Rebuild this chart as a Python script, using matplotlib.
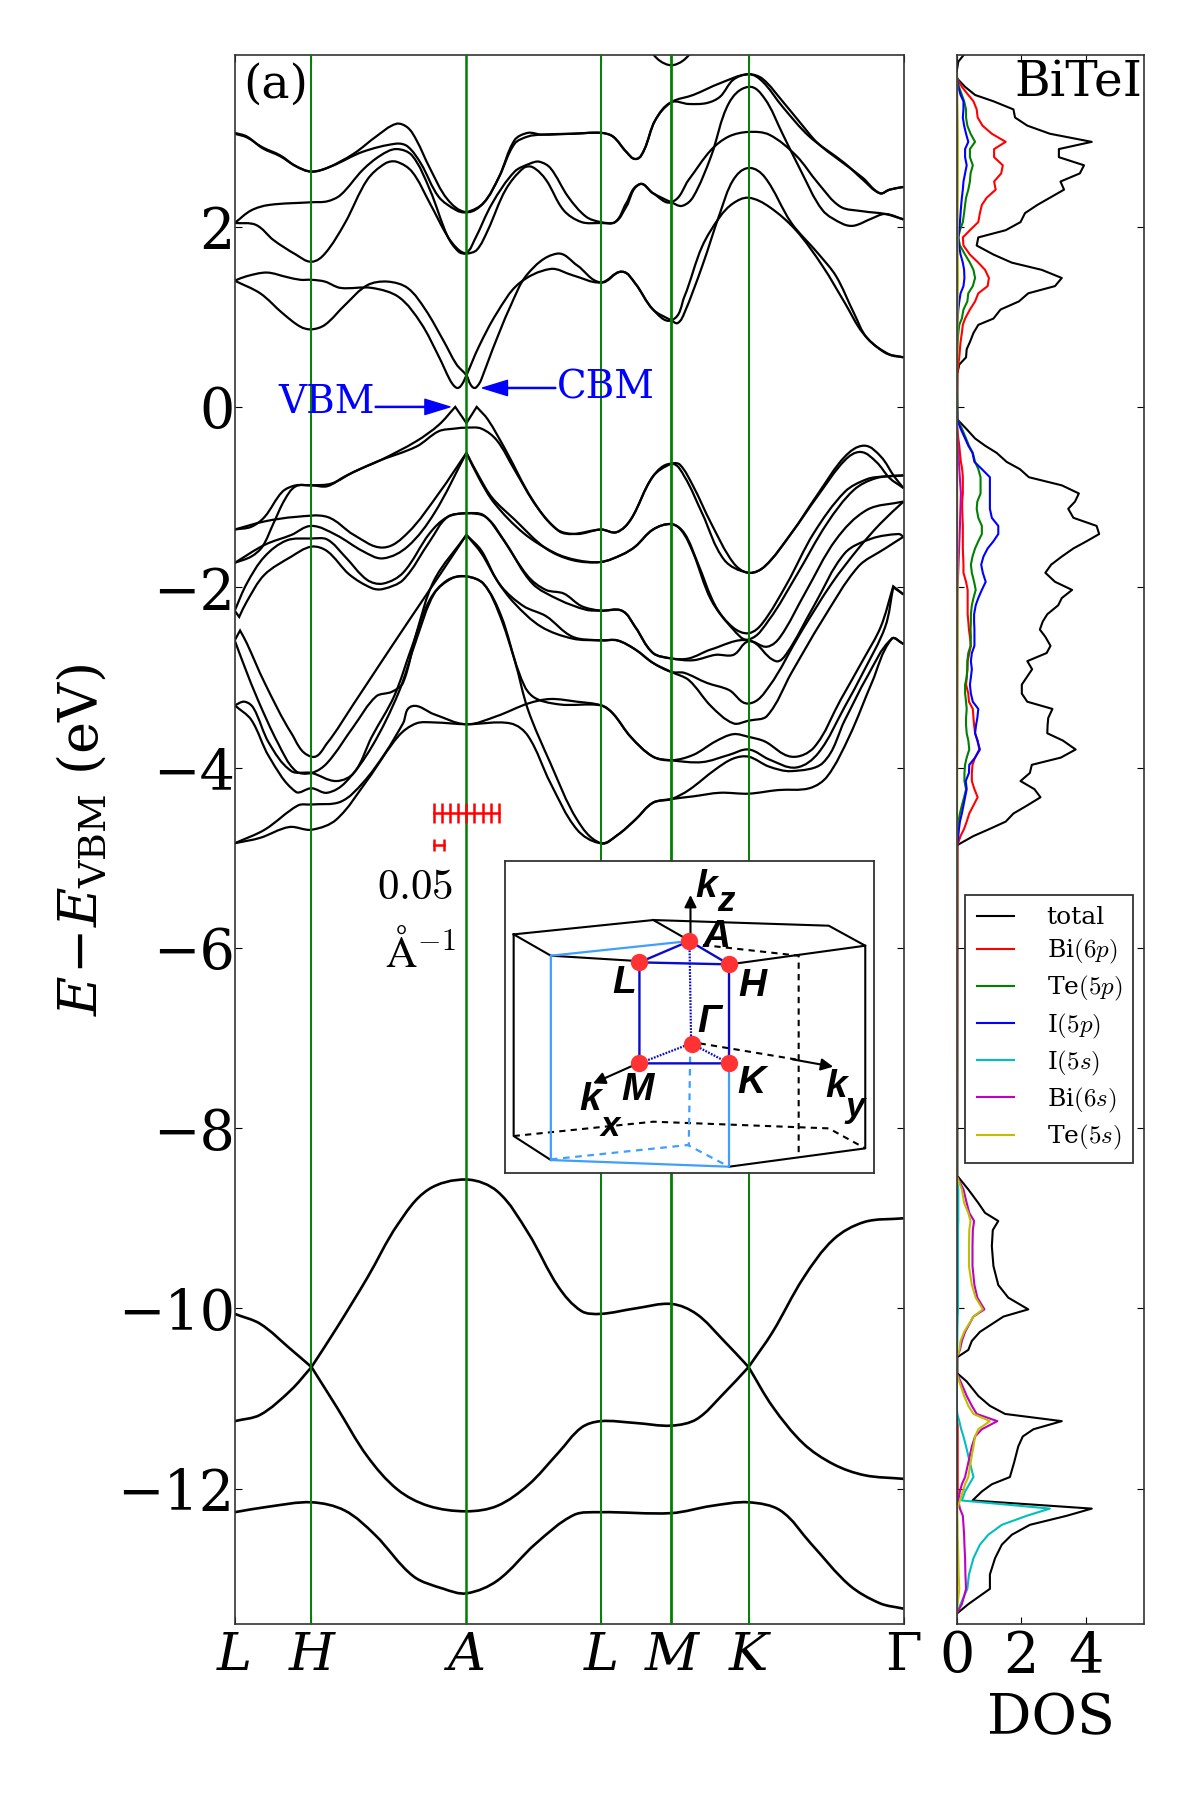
import numpy as np
import matplotlib
matplotlib.use("Agg")
import matplotlib.pyplot as plt
from matplotlib.path import Path
from matplotlib.patches import PathPatch

plt.rcParams["font.family"] = ["DejaVu Serif"]
plt.rcParams["mathtext.fontset"] = "cm"

# path position along the k line (arbitrary units), symmetry points
k_ticks = [33, 205, 552, 853, 1011, 1184, 1531]
k_labels = ["L", "H", "A", "L", "M", "K", "Γ"]
e_ticks = [-12, -10, -8, -6, -4, -2, 0, 2]

# conduction bands (k, eV)
band_c0 = [(960, 3.97), (985, 3.84), (1011, 3.79), (1037, 3.84), (1062, 3.97)]
band_c1 = [(33, 3.04), (60, 3.00), (95, 2.87), (135, 2.78), (170, 2.67), (205, 2.61), (240, 2.65), (300, 2.81), (350, 3.00), (395, 3.14), (420, 3.10), (440, 2.96), (470, 2.65), (510, 2.30), (552, 2.16), (590, 2.26), (625, 2.55), (660, 2.96), (690, 3.04), (720, 3.02), (790, 3.03), (853, 3.04), (880, 3.00), (910, 2.83), (932, 2.75), (950, 2.85), (975, 3.18), (1011, 3.38), (1060, 3.46), (1120, 3.59), (1184, 3.69), (1215, 3.61), (1260, 3.33), (1320, 3.00), (1400, 2.70), (1440, 2.52), (1478, 2.37), (1500, 2.41), (1531, 2.44)]
band_c2 = [(33, 3.03), (60, 2.99), (95, 2.88), (135, 2.79), (170, 2.67), (205, 2.61), (250, 2.67), (320, 2.83), (395, 2.92), (420, 2.89), (450, 2.70), (490, 2.33), (530, 2.18), (552, 2.16), (590, 2.26), (625, 2.55), (660, 2.92), (690, 3.00), (720, 3.02), (790, 3.03), (853, 3.04), (880, 3.00), (910, 2.83), (932, 2.75), (950, 2.85), (975, 3.18), (1011, 3.38), (1050, 3.36), (1090, 3.37), (1120, 3.44), (1150, 3.63), (1184, 3.69), (1215, 3.64), (1260, 3.39), (1300, 3.15), (1340, 2.92), (1400, 2.69), (1440, 2.54), (1478, 2.37), (1500, 2.41), (1531, 2.44)]
band_c3 = [(33, 2.04), (70, 2.18), (110, 2.24), (205, 2.27), (240, 2.28), (270, 2.35), (320, 2.63), (360, 2.79), (395, 2.86), (430, 2.79), (470, 2.41), (510, 1.89), (535, 1.72), (552, 1.70), (575, 1.74), (600, 1.96), (640, 2.41), (680, 2.65), (700, 2.66), (730, 2.52), (770, 2.18), (810, 2.05), (853, 2.04), (885, 2.05), (910, 2.26), (940, 2.47), (970, 2.37), (1011, 2.27), (1050, 2.52), (1100, 2.85), (1140, 3.00), (1184, 3.05), (1230, 3.02), (1290, 2.79), (1340, 2.48), (1390, 2.22), (1440, 2.17), (1490, 2.14), (1531, 2.08)]
band_c4 = [(33, 2.04), (80, 2.02), (120, 1.85), (170, 1.69), (205, 1.61), (235, 1.70), (280, 2.04), (330, 2.52), (370, 2.70), (395, 2.72), (430, 2.61), (470, 2.26), (510, 1.89), (535, 1.74), (552, 1.71), (570, 1.85), (610, 2.26), (660, 2.61), (695, 2.70), (715, 2.72), (740, 2.65), (780, 2.33), (820, 2.11), (853, 2.05), (885, 2.05), (910, 2.22), (940, 2.47), (970, 2.37), (1011, 2.27), (1035, 2.23), (1060, 2.33), (1100, 2.78), (1140, 3.37), (1184, 3.55), (1220, 3.42), (1260, 3.03), (1300, 2.63), (1350, 2.18), (1395, 2.03), (1420, 2.01), (1460, 2.09), (1490, 2.14), (1531, 2.08)]
band_c5 = [(33, 1.40), (60, 1.45), (105, 1.49), (150, 1.44), (180, 1.41), (205, 1.41), (235, 1.39), (270, 1.32), (340, 1.32), (400, 1.22), (450, 0.93), (490, 0.56), (515, 0.30), (525, 0.23), (533, 0.21), (542, 0.25), (552, 0.35), (580, 0.67), (620, 1.04), (670, 1.37), (740, 1.53), (790, 1.46), (853, 1.38), (900, 1.50), (930, 1.37), (970, 1.08), (1011, 0.96), (1040, 1.22), (1080, 1.78), (1120, 2.11), (1150, 2.26), (1184, 2.32), (1230, 2.22), (1290, 1.96), (1350, 1.56), (1400, 1.15), (1440, 0.82), (1490, 0.60), (1531, 0.55)]
band_c6 = [(33, 1.40), (90, 1.26), (140, 1.04), (180, 0.89), (205, 0.86), (235, 0.91), (280, 1.13), (330, 1.35), (375, 1.39), (420, 1.32), (460, 1.08), (500, 0.74), (530, 0.47), (552, 0.35), (561, 0.25), (570, 0.21), (578, 0.24), (585, 0.30), (610, 0.63), (650, 1.11), (690, 1.48), (755, 1.70), (800, 1.57), (853, 1.38), (900, 1.50), (930, 1.37), (970, 1.08), (1011, 0.96), (1025, 0.93), (1040, 1.04), (1080, 1.56), (1120, 2.15), (1150, 2.52), (1184, 2.65), (1220, 2.55), (1280, 2.04), (1340, 1.70), (1380, 1.45), (1420, 1.04), (1450, 0.76), (1500, 0.58), (1531, 0.55)]

# valence bands
band_va = [(33, -1.36), (70, -1.33), (100, -1.22), (140, -0.94), (170, -0.87), (205, -0.87), (250, -0.85), (300, -0.72), (360, -0.59), (440, -0.38), (490, -0.20), (527, 0.00), (552, -0.18), (575, 0.00), (600, -0.14), (640, -0.48), (700, -1.03), (755, -1.36), (800, -1.41), (853, -1.36), (888, -1.39), (920, -1.25), (970, -0.77), (1011, -0.63), (1030, -0.64), (1060, -0.88), (1100, -1.29), (1150, -1.73), (1184, -1.84), (1220, -1.77), (1280, -1.40), (1340, -0.96), (1400, -0.55), (1443, -0.43), (1480, -0.55), (1510, -0.77), (1531, -0.90)]
band_vb = [(33, -1.73), (70, -1.66), (95, -1.55), (120, -1.29), (145, -1.03), (170, -0.88), (205, -0.87), (240, -0.88), (280, -0.77), (350, -0.61), (440, -0.44), (490, -0.27), (527, -0.24), (552, -0.23), (585, -0.24), (620, -0.37), (660, -0.70), (710, -1.11), (760, -1.38), (790, -1.41), (853, -1.36), (888, -1.39), (920, -1.25), (970, -0.77), (1011, -0.63), (1040, -0.77), (1080, -1.18), (1130, -1.70), (1184, -1.84), (1220, -1.77), (1280, -1.40), (1340, -0.98), (1400, -0.59), (1435, -0.50), (1470, -0.61), (1500, -0.79), (1531, -0.90)]
band_vc = [(33, -1.36), (100, -1.27), (170, -1.22), (240, -1.22), (300, -1.42), (365, -1.56), (420, -1.40), (490, -0.96), (552, -0.51), (580, -0.77), (610, -1.01), (660, -1.25), (730, -1.57), (790, -1.70), (853, -1.72), (900, -1.64), (930, -1.55), (970, -1.36), (1011, -1.30), (1040, -1.40), (1070, -1.73), (1110, -2.21), (1150, -2.45), (1184, -2.51), (1215, -2.40), (1270, -1.96), (1330, -1.40), (1400, -0.94), (1450, -0.80), (1490, -0.77), (1531, -0.76)]
band_vd = [(33, -1.73), (100, -1.53), (160, -1.42), (205, -1.32), (260, -1.42), (320, -1.60), (365, -1.68), (420, -1.55), (480, -1.18), (552, -0.51), (580, -0.79), (615, -1.07), (680, -1.40), (750, -1.62), (800, -1.70), (853, -1.72), (900, -1.64), (930, -1.55), (970, -1.36), (1011, -1.30), (1035, -1.38), (1060, -1.62), (1100, -2.14), (1150, -2.47), (1184, -2.58), (1230, -2.36), (1290, -1.88), (1360, -1.29), (1420, -0.92), (1470, -0.79), (1531, -0.76)]
band_ve = [(33, -2.26), (60, -1.96), (100, -1.66), (150, -1.48), (205, -1.46), (240, -1.47), (280, -1.66), (330, -1.92), (365, -1.96), (410, -1.84), (470, -1.40), (510, -1.22), (552, -1.18), (595, -1.22), (640, -1.51), (700, -1.96), (760, -2.14), (820, -2.25), (853, -2.26), (900, -2.26), (930, -2.44), (970, -2.73), (1011, -2.79), (1060, -2.81), (1110, -2.75), (1150, -2.75), (1184, -2.60), (1225, -2.66), (1255, -2.55), (1310, -2.07), (1380, -1.47), (1450, -1.14), (1531, -1.05)]
band_vf = [(33, -2.26), (43, -2.33), (60, -2.16), (100, -1.86), (160, -1.66), (205, -1.55), (240, -1.60), (290, -1.86), (340, -2.01), (365, -2.02), (410, -1.92), (470, -1.49), (510, -1.22), (552, -1.18), (590, -1.20), (630, -1.44), (690, -1.88), (730, -2.03), (770, -2.07), (810, -2.21), (853, -2.26), (900, -2.26), (930, -2.44), (970, -2.73), (1011, -2.79), (1050, -2.79), (1100, -2.69), (1184, -2.59), (1245, -2.82), (1270, -2.73), (1330, -2.21), (1400, -1.62), (1460, -1.46), (1520, -1.41), (1531, -1.44)]
band_vg = [(33, -2.59), (45, -2.48), (60, -2.62), (100, -3.06), (160, -3.62), (205, -3.88), (240, -3.73), (300, -3.29), (360, -2.84), (430, -2.32), (490, -1.88), (552, -1.42), (585, -1.59), (620, -1.92), (660, -2.18), (720, -2.44), (790, -2.57), (853, -2.59), (890, -2.59), (930, -2.69), (970, -2.84), (1011, -2.94), (1040, -2.95), (1090, -3.06), (1140, -3.14), (1184, -3.29), (1230, -3.10), (1300, -2.51), (1370, -1.96), (1430, -1.57), (1480, -1.29), (1531, -1.05)]
band_vh = [(33, -2.59), (55, -2.88), (85, -3.25), (130, -3.73), (170, -4.04), (205, -4.06), (240, -3.95), (300, -3.54), (350, -3.21), (385, -3.16), (410, -3.06), (440, -2.51), (480, -1.92), (552, -1.42), (585, -1.62), (630, -1.99), (680, -2.21), (730, -2.32), (790, -2.55), (853, -2.59), (890, -2.59), (930, -2.69), (970, -2.84), (1011, -2.94), (1050, -3.03), (1100, -3.32), (1150, -3.51), (1184, -3.48), (1225, -3.43), (1280, -2.95), (1350, -2.36), (1430, -1.77), (1490, -1.57), (1531, -1.44)]
band_vi = [(33, -3.31), (55, -3.27), (75, -3.34), (110, -3.73), (160, -4.04), (205, -4.06), (260, -4.15), (300, -4.06), (340, -3.66), (390, -3.21), (430, -2.66), (470, -2.14), (510, -1.92), (552, -1.88), (590, -1.96), (630, -2.32), (670, -2.95), (700, -3.21), (760, -3.30), (853, -3.31), (880, -3.40), (920, -3.66), (970, -3.88), (1011, -3.92), (1060, -3.86), (1110, -3.71), (1150, -3.63), (1184, -3.66), (1220, -3.71), (1280, -3.88), (1330, -3.78), (1390, -3.25), (1440, -2.81), (1480, -2.44), (1508, -1.99), (1531, -2.08)]
band_vj = [(33, -3.31), (70, -3.47), (110, -3.88), (170, -4.27), (205, -4.23), (240, -4.28), (280, -4.17), (340, -3.77), (400, -3.17), (440, -2.58), (480, -2.07), (520, -1.90), (552, -1.88), (590, -1.96), (625, -2.29), (660, -2.81), (690, -3.36), (740, -3.95), (800, -4.58), (853, -4.84), (890, -4.75), (930, -4.58), (970, -4.39), (1011, -4.35), (1060, -4.32), (1120, -4.28), (1184, -4.29), (1250, -4.25), (1320, -4.23), (1360, -4.10), (1410, -3.65), (1460, -3.06), (1505, -2.57), (1531, -2.63)]
band_vk = [(33, -4.84), (100, -4.69), (175, -4.42), (205, -4.41), (270, -4.38), (320, -4.17), (370, -3.84), (410, -3.51), (430, -3.32), (480, -3.41), (552, -3.52), (620, -3.43), (690, -3.29), (740, -3.24), (800, -3.27), (853, -3.31), (880, -3.40), (920, -3.66), (970, -3.88), (1011, -3.92), (1080, -3.94), (1140, -3.86), (1184, -3.80), (1230, -3.91), (1290, -4.00), (1340, -3.84), (1400, -3.32), (1440, -2.95), (1490, -2.44), (1508, -2.00), (1531, -2.08)]
band_vl = [(33, -4.84), (90, -4.78), (155, -4.66), (205, -4.69), (260, -4.58), (330, -4.14), (400, -3.65), (440, -3.51), (480, -3.50), (552, -3.52), (650, -3.51), (690, -3.65), (740, -4.17), (800, -4.69), (853, -4.84), (890, -4.75), (930, -4.58), (970, -4.39), (1011, -4.35), (1050, -4.25), (1110, -4.02), (1150, -3.90), (1184, -3.88), (1230, -3.99), (1280, -4.04), (1350, -3.95), (1400, -3.47), (1450, -2.99), (1505, -2.57), (1531, -2.63)]

# low lying bands
band_l1 = [(33, -10.06), (90, -10.17), (158, -10.45), (205, -10.65), (261, -10.22), (330, -9.66), (398, -9.07), (467, -8.68), (552, -8.57), (621, -8.70), (690, -9.16), (758, -9.76), (810, -10.03), (853, -10.06), (930, -10.00), (1011, -9.95), (1067, -10.06), (1127, -10.35), (1184, -10.65), (1238, -10.26), (1307, -9.66), (1375, -9.23), (1444, -9.04), (1531, -9.00)]
band_l2 = [(33, -11.25), (90, -11.18), (158, -10.91), (205, -10.65), (261, -11.09), (330, -11.64), (398, -12.01), (467, -12.19), (552, -12.25), (621, -12.19), (690, -11.96), (758, -11.60), (810, -11.32), (853, -11.25), (930, -11.27), (1011, -11.30), (1067, -11.23), (1127, -10.95), (1184, -10.65), (1238, -11.09), (1307, -11.50), (1375, -11.73), (1444, -11.85), (1531, -11.89)]
band_l3 = [(33, -12.26), (107, -12.20), (205, -12.15), (279, -12.24), (347, -12.51), (433, -12.97), (501, -13.11), (552, -13.16), (621, -13.02), (707, -12.61), (793, -12.29), (853, -12.26), (1011, -12.27), (1101, -12.19), (1184, -12.15), (1255, -12.24), (1324, -12.61), (1410, -13.07), (1478, -13.27), (1531, -13.33)]

bands_upper = [band_c0, band_c1, band_c2, band_c3, band_c4, band_c5, band_c6,
               band_va, band_vb, band_vc, band_vd, band_ve, band_vf, band_vg,
               band_vh, band_vi, band_vj, band_vk, band_vl]
bands_lower = [band_l1, band_l2, band_l3]

# DOS, energy grid of each block
e_cond = [3.64, 3.55, 3.46, 3.39, 3.30, 3.21, 3.12, 3.03, 2.94, 2.86, 2.77, 2.68, 2.59, 2.50, 2.41, 2.32, 2.24, 2.15, 2.05, 1.96, 1.88, 1.79, 1.69, 1.60, 1.52, 1.43, 1.34, 1.26, 1.17, 1.08, 0.98, 0.91, 0.82, 0.72, 0.64, 0.55, 0.47, 0.37]
e_val = [-0.14, -0.24, -0.35, -0.43, -0.51, -0.61, -0.69, -0.78, -0.87, -0.96, -1.05, -1.13, -1.23, -1.32, -1.41, -1.49, -1.57, -1.66, -1.75, -1.84, -1.94, -2.03, -2.12, -2.20, -2.30, -2.38, -2.47, -2.55, -2.65, -2.73, -2.82, -2.91, -3.00, -3.08, -3.18, -3.27, -3.35, -3.45, -3.53, -3.62, -3.70, -3.80, -3.89, -3.97, -4.06, -4.15, -4.24, -4.33, -4.42, -4.51, -4.60, -4.68, -4.76, -4.86]
e_low1 = [-8.53, -8.68, -8.83, -8.94, -9.03, -9.13, -9.31, -9.53, -9.74, -9.88, -10.01, -10.09, -10.26, -10.36, -10.46, -10.54]
e_low2 = [-10.72, -10.81, -10.97, -11.08, -11.17, -11.25, -11.34, -11.42, -11.53, -11.71, -11.87, -11.95, -12.03, -12.13, -12.22, -12.30, -12.40, -12.51, -12.62, -12.77, -12.95, -13.11, -13.28, -13.38]

total_top = [(0.21, 3.90), (0.05, 3.83), (0.00, 3.72)]
total_cond = [.02, .26, .57, 1.14, 1.76, 1.81, 2.19, 2.89, 4.19, 3.17, 3.17, 3.95, 3.82, 3.22, 3.33, 2.89, 2.50, 2.12, 1.98, 1.52, .67, .62, 1.14, 1.71, 2.64, 3.26, 3.05, 2.22, 1.93, 1.36, 1.14, .67, .52, .41, .31, .29, .08, .02]
total_val = [.02, .29, .57, .88, 1.24, 1.55, 1.96, 2.24, 3.26, 3.79, 3.67, 3.46, 3.62, 4.34, 4.42, 4.03, 3.62, 3.26, 2.93, 2.75, 3.05, 3.58, 3.26, 3.15, 2.81, 2.67, 2.58, 2.75, 2.91, 2.79, 2.19, 2.34, 2.17, 2.02, 2.02, 2.19, 2.97, 2.84, 2.82, 2.81, 3.29, 3.69, 3.23, 2.33, 2.27, 1.98, 2.41, 2.60, 2.19, 1.76, 1.52, 1.03, .52, .02]
total_low1 = [.02, .36, .67, .88, 1.29, 1.12, 1.09, 1.14, 1.29, 1.60, 2.22, 1.45, .72, .47, .36, .02]
total_low2 = [.02, .31, .67, 1.03, 1.50, 3.26, 2.38, 2.05, 1.91, 1.78, 1.65, 1.09, .78, .49, 4.19, 3.41, 2.27, 1.71, 1.40, 1.19, 1.03, 1.03, .36, .02]

bi6p_cond = [.02, .16, .36, .52, .62, .65, .80, 1.09, 1.52, 1.16, 1.16, 1.43, 1.38, 1.16, 1.21, .93, .78, .72, .67, .41, .19, .21, .41, .67, .88, 1.00, .96, .67, .57, .41, .26, .19, .16, .12, .10, .08, .05, .02]
bi6p_val = [0, .02, .05, .08, .10, .13, .17, .19, .19, .19, .17, .17, .18, .19, .19, .19, .19, .20, .21, .21, .29, .34, .34, .34, .34, .36, .38, .41, .44, .39, .34, .33, .31, .29, .36, .38, .50, .52, .54, .57, .65, .70, .57, .49, .47, .47, .55, .65, .52, .39, .31, .23, .12, .02]
te5p_cond = [.02, .07, .16, .23, .29, .29, .33, .43, .57, .41, .41, .50, .43, .41, .36, .29, .26, .23, .19, .10, .05, .10, .26, .41, .52, .57, .50, .36, .33, .21, .16, .08, .05, .03, .02, .02, .01, 0]
te5p_val = [.02, .16, .29, .38, .50, .57, .67, .74, .74, .74, .64, .62, .67, .78, .78, .67, .57, .49, .44, .47, .54, .59, .52, .47, .44, .44, .43, .44, .43, .36, .33, .33, .31, .26, .26, .29, .31, .29, .29, .31, .36, .39, .31, .26, .24, .24, .29, .23, .16, .10, .05, .03, .02, 0]
i5p_cond = [.02, .05, .12, .21, .21, .19, .23, .29, .36, .26, .26, .31, .26, .21, .19, .16, .14, .12, .10, .08, .05, .07, .12, .19, .23, .24, .21, .12, .08, .05, .03, .02, .02, .01, .01, 0, 0, 0]
i5p_val = [.02, .12, .26, .36, .49, .55, .78, 1.03, 1.03, 1.03, 1.03, 1.03, 1.09, 1.29, 1.29, 1.14, .96, .83, .76, .81, .90, .78, .67, .59, .54, .54, .55, .55, .55, .47, .44, .47, .44, .41, .44, .50, .67, .64, .60, .57, .64, .72, .57, .39, .38, .28, .31, .26, .21, .16, .10, .07, .05, .02]

i5s_low1 = [0, .05, .05, .05, .05, .04, .04, .04, .04, .04, .04, .03, .02, .02, .01, 0]
i5s_low2 = [0, 0, 0, 0, .02, .08, .14, .21, .29, .41, .52, .39, .26, .16, 2.89, 2.17, 1.40, .98, .72, .52, .38, .33, .12, 0]
bi6s_low1 = [0, .21, .31, .39, .54, .50, .49, .49, .55, .64, .86, .52, .26, .16, .10, 0]
bi6s_low2 = [0, .12, .31, .47, .62, 1.26, .78, .57, .47, .36, .26, .16, .10, .05, .10, .19, .21, .23, .24, .26, .27, .29, .16, 0]
te5s_low1 = [0, .16, .23, .36, .43, .39, .38, .38, .47, .59, .81, .52, .23, .12, .08, 0]
te5s_low2 = [0, .08, .23, .36, .52, 1.03, .67, .57, .52, .43, .36, .26, .19, .10, .02, .02, .03, .03, .04, .05, .06, .08, .03, 0]

# the s states and Bi(6p) are almost nothing up in the valence region
bi6s_e_up = [3.7, 2.9, 1.9, 0.3, -0.14, -0.69, -0.96, -1.32, -2.0, -4.86, -8.4]
bi6s_up = [0, .02, .01, 0, 0, .08, .13, .10, .03, 0, 0]
te5s_e_up = [3.7, 2.9, 1.88, 1.43, 0.37, -0.14, -2.5, -4.86, -8.4]
te5s_up = [.01, .04, .03, .04, .01, .01, .03, .01, 0]
bi6p_e_low = [-10.6, -11.2, -11.3, -12.1, -12.2, -13.4]
bi6p_low = [0, 0, .03, .03, 0, 0]

scale_k = [479, 497, 515, 534, 552, 570, 589, 607, 625]
scale_unit_k = [479, 502]
green_widths = [1.4, 1.8, 1.4, 2.0, 1.4]

# Brillouin zone sketch, in the coordinates of the inset
bz_black = [[(425, 463), (838, 420), (1357, 437), (1465, 497), (1085, 550)],
            [(425, 463), (535, 527), (775, 542)],
            [(838, 420), (945, 482)],
            [(425, 463), (425, 1068), (535, 1140)],
            [(1465, 497), (1465, 1105), (1062, 1160)]]
bz_black_dash = [[(425, 1068), (838, 1025), (1357, 1045), (1465, 1105)],
                 [(985, 495), (1268, 527), (1268, 1130)],
                 [(975, 790), (1270, 840)]]
bz_light = [[(945, 483), (535, 527), (535, 1140), (1062, 1160), (1062, 850)]]
bz_light_dash = [[(535, 1138), (940, 1095), (1062, 1160)],
                 [(947, 830), (943, 1095)]]
bz_blue = [[(797, 547), (945, 483), (1062, 553), (797, 547), (797, 850), (1062, 850), (1062, 553)]]
bz_blue_dot = [[(945, 483), (950, 790)],
               [(797, 850), (950, 790), (1062, 850)]]
bz_points = [(797, 547), (945, 483), (1062, 553), (797, 850), (953, 792), (1062, 850)]
bz_arrows = [((948, 470), (948, 345)), ((775, 858), (660, 910)), ((1250, 838), (1370, 860))]
bz_text = [("A", 1025, 470, 28), ("L", 752, 610, 28), ("H", 1130, 618, 28), ("Γ", 1002, 725, 28),
           ("M", 790, 930, 28), ("K", 1128, 910, 28), ("k", 995, 322, 28), ("z", 1052, 365, 25),
           ("k", 650, 960, 28), ("x", 712, 1038, 25), ("k", 1378, 922, 28), ("y", 1436, 982, 25)]


def draw_band(ax, points, color="k", lw=1.6, zorder=2):
    # bezier path through the read points, sharp turns stay corners
    pts = np.array(points, dtype=float)
    sq = pts * [1, 270.6]
    seg = sq[1:] - sq[:-1]
    seg_len = np.hypot(seg[:, 0], seg[:, 1])
    unit = seg / seg_len[:, None]
    t_in = np.vstack([unit[0], unit])
    t_out = np.vstack([unit, unit[-1]])
    for i in range(1, len(pts) - 1):
        turn = np.degrees(np.arccos(np.clip(unit[i - 1] @ unit[i], -1, 1)))
        if turn < 110:
            t = sq[i + 1] - sq[i - 1]
            t_in[i] = t_out[i] = t / np.hypot(*t)
    verts = [tuple(pts[0])]
    codes = [Path.MOVETO]
    for i in range(len(pts) - 1):
        c1 = (sq[i] + t_out[i] * seg_len[i] / 3) / [1, 270.6]
        c2 = (sq[i + 1] - t_in[i + 1] * seg_len[i] / 3) / [1, 270.6]
        verts += [tuple(c1), tuple(c2), tuple(pts[i + 1])]
        codes += [Path.CURVE4] * 3
    ax.add_patch(PathPatch(Path(verts, codes), fill=False, edgecolor=color, lw=lw, zorder=zorder))


def poly(ax, groups, **kw):
    for g in groups:
        xy = np.array(g)
        ax.plot(xy[:, 0], xy[:, 1], **kw)


fig = plt.figure(figsize=(12, 18), dpi=100)
ax = fig.add_axes([234.7 / 1200, 1 - 1624 / 1800, 668.8 / 1200, 1568.7 / 1800])
ax2 = fig.add_axes([956.7 / 1200, 1 - 1624 / 1800, 187.6 / 1200, 1568.7 / 1800])

for b in bands_upper:
    draw_band(ax, b)
for b in bands_lower:
    draw_band(ax, b, lw=1.9)
for k, w in zip(k_ticks[1:-1], green_widths):
    ax.axvline(k, color="g", lw=w, zorder=3)

ax.set_xlim(33, 1531)
ax.set_ylim(-13.5, 3.9)
ax.set_xticks(k_ticks)
ax.set_xticklabels(k_labels, fontsize=38)
for tl in ax.get_xticklabels()[:-1]:
    tl.set_fontstyle("italic")
ax.set_yticks(e_ticks)
ax.tick_params(axis="y", labelsize=40, direction="in", right=True, length=5, pad=0)
ax.tick_params(axis="x", direction="in", top=True, length=5, pad=4)
ax.set_ylabel(r"$E\!-\!E_{\mathrm{VBM}}$ (eV)", fontsize=39, math_fontfamily="dejavuserif")
ax.yaxis.set_label_coords(-0.189, 0.5)

ax.text(125, 3.57, "(a)", fontsize=34, ha="center", va="center")
ax.text(238, 0.05, "VBM", color="b", fontsize=28, ha="center", va="center")
ax.text(865, 0.21, "CBM", color="b", fontsize=28, ha="center", va="center")
ax.annotate("", xy=(515, 0.0), xytext=(348, 0.0),
            arrowprops=dict(color="b", width=0.8, headwidth=11, headlength=18, shrink=0))
ax.annotate("", xy=(588, 0.21), xytext=(752, 0.21),
            arrowprops=dict(color="b", width=0.8, headwidth=11, headlength=18, shrink=0))

ax.plot(scale_k, [-4.5] * len(scale_k), "-|", color="r", ms=14.5, mew=1.8, lw=1.8, zorder=4)
ax.plot(scale_unit_k, [-4.86] * 2, "-|", color="r", ms=8, mew=1.8, lw=1.8, zorder=4)
ax.text(438, -5.33, "$0.05$", fontsize=31, ha="center", va="center", zorder=4)
ax.text(449, -6.05, r"$\mathrm{\AA}^{-1}$", fontsize=31, ha="center", va="center", zorder=4)

# inset with the zone sketch
ins = fig.add_axes([505.2 / 1200, 1 - 1172.7 / 1800, 369.2 / 1200, 312 / 1800], zorder=5)
ins.set_xlim(400, 1492)
ins.set_ylim(1178, 242)
ins.set_xticks([])
ins.set_yticks([])
for s in ins.spines.values():
    s.set_linewidth(1.3)
    s.set_color("#333333")
poly(ins, bz_light, color="#3f9fff", lw=1.6, zorder=2)
poly(ins, bz_light_dash, color="#3f9fff", lw=1.6, ls=(0, (3, 2.5)), zorder=2)
poly(ins, bz_black, color="k", lw=1.5, zorder=1)
poly(ins, bz_black_dash, color="k", lw=1.5, ls=(0, (3, 2.5)), zorder=1)
poly(ins, bz_blue, color="#0a0acc", lw=1.7, zorder=3)
poly(ins, bz_blue_dot, color="#0a0acc", lw=1.6, ls=(0, (0.8, 0.6)), zorder=3)
for a, b in bz_arrows:
    ins.annotate("", xy=b, xytext=a, zorder=4,
                 arrowprops=dict(arrowstyle="-|>", color="k", lw=1.5, mutation_scale=18, shrinkA=0, shrinkB=0))
xy = np.array(bz_points)
ins.plot(xy[:, 0], xy[:, 1], "o", color="#ff3333", ms=12.5, mew=0, zorder=5)
for txt, x, y, fs in bz_text:
    ins.text(x, y, txt, fontsize=fs, family="Liberation Sans", weight="bold", style="italic",
             ha="center", va="center", zorder=6)

# DOS panel
e_all = e_cond + e_val + e_low1 + e_low2
ax2.plot(*zip(*total_top), color="k", lw=1.5)
ax2.plot(total_cond + total_val + total_low1 + total_low2, e_all, color="k", lw=1.5, label="total")
ax2.plot(bi6p_cond + bi6p_val + bi6p_low, e_cond + e_val + bi6p_e_low, color="r", lw=1.5, label=r"Bi$(6p)$")
ax2.plot(te5p_cond + te5p_val, e_cond + e_val, color="g", lw=1.5, label=r"Te$(5p)$")
ax2.plot(i5p_cond + i5p_val, e_cond + e_val, color="b", lw=1.5, label=r"I$(5p)$")
ax2.plot(i5s_low1 + i5s_low2, e_low1 + e_low2, color="c", lw=1.5, label=r"I$(5s)$")
ax2.plot(bi6s_up + bi6s_low1 + bi6s_low2, bi6s_e_up + e_low1 + e_low2, color="m", lw=1.5, label=r"Bi$(6s)$")
ax2.plot(te5s_up + te5s_low1 + te5s_low2, te5s_e_up + e_low1 + e_low2, color="y", lw=1.5, label=r"Te$(5s)$")

ax2.set_xlim(0, 5.82)
ax2.set_ylim(-13.5, 3.9)
ax2.set_xticks([0, 2, 4])
ax2.set_yticks(e_ticks)
ax2.set_yticklabels([])
ax2.tick_params(axis="x", labelsize=40, direction="in", top=True, length=5, pad=4)
ax2.tick_params(axis="y", direction="in", right=True, length=5)
ax2.set_xlabel("DOS", fontsize=40, labelpad=5)
ax2.text(3.77, 3.59, "BiTeI", fontsize=35, ha="center", va="center")
leg = ax2.legend(loc="upper left", bbox_to_anchor=(0.046, 0.4647), borderaxespad=0, fontsize=18,
                 fancybox=False, framealpha=1, edgecolor="#333333", labelspacing=0.32,
                 handlelength=1.5, handletextpad=1.3, borderpad=0.45)
leg.get_frame().set_linewidth(1.3)

for a in (ax, ax2):
    for s in a.spines.values():
        s.set_linewidth(1.2)
        s.set_color("#333333")

fig.savefig("out.png", dpi=100, facecolor="white")
